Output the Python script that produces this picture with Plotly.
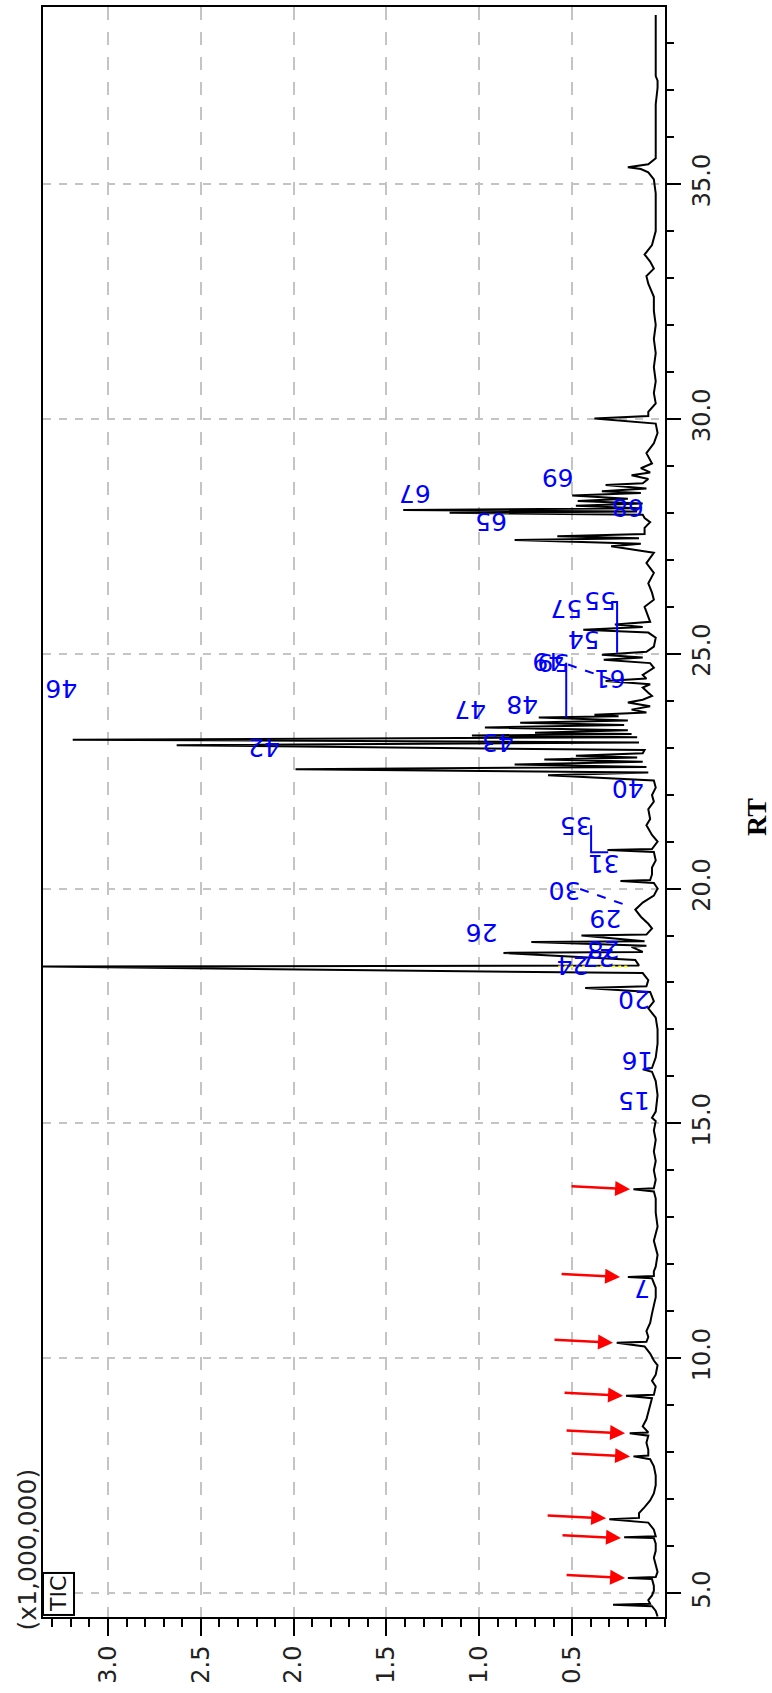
import plotly.graph_objects as go

# ---------------- data (RT in min, TIC in x1,000,000) ----------------
rt_min = [
    4.50, 4.62, 4.72, 4.75, 4.77, 4.85, 4.95, 5.05, 5.15, 5.30, 5.32, 5.34, 5.45, 5.60, 5.75, 5.90,
    6.05, 6.17, 6.19, 6.21, 6.35, 6.50, 6.57, 6.60, 6.70, 6.83, 6.97, 7.12, 7.30, 7.50, 7.70, 7.85,
    7.91, 7.93, 8.05, 8.20, 8.35, 8.40, 8.42, 8.55, 8.70, 8.85, 9.00, 9.15, 9.20, 9.22, 9.40, 9.52,
    9.65, 9.85, 9.95, 10.10, 10.25, 10.33, 10.35, 10.45, 10.58, 10.75, 10.95, 11.10, 11.30, 11.50,
    11.62, 11.70, 11.73, 11.75, 11.85, 11.95, 12.20, 12.50, 12.65, 12.80, 13.10, 13.40, 13.55, 13.60,
    13.62, 13.80, 14.00, 14.20, 14.40, 14.65, 14.85, 15.05, 15.12, 15.25, 15.60, 15.90, 16.10, 16.15,
    16.18, 16.40, 16.70, 17.00, 17.25, 17.45, 17.60, 17.80, 17.88, 17.92, 18.05, 18.20, 18.34, 18.36,
    18.48, 18.63, 18.65, 18.76, 18.78, 18.86, 18.88, 19.00, 19.02, 19.15, 19.25, 19.40, 19.55, 19.70,
    19.85, 20.00, 20.12, 20.16, 20.18, 20.30, 20.45, 20.60, 20.78, 20.82, 20.84, 21.00, 21.14, 21.35,
    21.48, 21.69, 21.85, 21.99, 22.15, 22.30, 22.41, 22.47, 22.54, 22.59, 22.64, 22.70, 22.75, 22.79,
    22.83, 22.88, 22.95, 23.05, 23.11, 23.17, 23.22, 23.26, 23.29, 23.32, 23.37, 23.43, 23.48, 23.53,
    23.58, 23.64, 23.67, 23.70, 23.75, 23.81, 23.88, 23.96, 24.02, 24.10, 24.17, 24.28, 24.35, 24.42,
    24.47, 24.55, 24.70, 24.80, 24.87, 24.92, 24.98, 25.04, 25.15, 25.34, 25.45, 25.51, 25.57, 25.62,
    25.68, 25.80, 26.00, 26.15, 26.30, 26.50, 26.72, 26.93, 27.15, 27.29, 27.34, 27.42, 27.46, 27.50,
    27.55, 27.68, 27.80, 27.89, 27.96, 28.00, 28.03, 28.06, 28.10, 28.15, 28.20, 28.25, 28.30, 28.37,
    28.42, 28.46, 28.52, 28.59, 28.63, 28.72, 28.80, 28.86, 28.95, 29.05, 29.27, 29.48, 29.70, 29.90,
    30.01, 30.06, 30.15, 30.33, 30.55, 30.80, 31.10, 31.40, 31.70, 32.00, 32.30, 32.60, 32.88, 33.04,
    33.20, 33.35, 33.50, 33.70, 34.00, 34.40, 34.80, 35.10, 35.25, 35.32, 35.36, 35.42, 35.55, 35.90,
    36.30, 36.70, 37.05, 37.20, 37.30, 37.70, 38.10, 38.60,
]
tic_1e6 = [
    0.04, 0.05, 0.07, 0.28, 0.08, 0.09, 0.07, 0.06, 0.06, 0.07, 0.20, 0.05, 0.04, 0.05, 0.06, 0.05,
    0.05, 0.06, 0.22, 0.05, 0.06, 0.09, 0.30, 0.14, 0.14, 0.11, 0.08, 0.06, 0.05, 0.05, 0.06, 0.08,
    0.17, 0.09, 0.09, 0.10, 0.09, 0.19, 0.09, 0.12, 0.10, 0.09, 0.08, 0.07, 0.21, 0.06, 0.05, 0.07,
    0.05, 0.04, 0.06, 0.08, 0.11, 0.26, 0.10, 0.09, 0.10, 0.08, 0.07, 0.06, 0.05, 0.05,
    0.06, 0.07, 0.20, 0.06, 0.06, 0.05, 0.04, 0.06, 0.05, 0.04, 0.05, 0.05, 0.06, 0.17,
    0.06, 0.05, 0.06, 0.05, 0.06, 0.05, 0.06, 0.05, 0.07, 0.05, 0.04, 0.05, 0.07, 0.12,
    0.07, 0.05, 0.04, 0.04, 0.05, 0.09, 0.06, 0.08, 0.43, 0.10, 0.09, 0.12, 3.40, 0.14,
    0.16, 0.87, 0.12, 0.18, 0.10, 0.72, 0.11, 0.45, 0.10, 0.07, 0.09, 0.13, 0.16, 0.12,
    0.06, 0.04, 0.06, 0.24, 0.08, 0.07, 0.07, 0.05, 0.06, 0.31, 0.07, 0.04, 0.07, 0.10,
    0.08, 0.09, 0.06, 0.07, 0.05, 0.06, 0.63, 0.09, 1.99, 0.10, 0.81, 0.12, 0.65, 0.15,
    0.48, 0.12, 0.11, 2.63, 0.14, 3.19, 0.15, 1.04, 0.18, 0.70, 0.20, 0.97, 0.22, 0.78,
    0.20, 0.68, 0.25, 0.38, 0.10, 0.18, 0.08, 0.20, 0.12, 0.07, 0.09, 0.12, 0.08, 0.32,
    0.10, 0.12, 0.06, 0.08, 0.33, 0.12, 0.34, 0.10, 0.06, 0.05, 0.09, 0.44, 0.12, 0.27,
    0.08, 0.09, 0.11, 0.06, 0.07, 0.09, 0.06, 0.10, 0.06, 0.29, 0.13, 0.81, 0.14, 0.58,
    0.11, 0.11, 0.08, 0.11, 0.12, 1.16, 0.15, 1.41, 0.14, 0.48, 0.12, 0.47, 0.20, 0.50,
    0.13, 0.34, 0.10, 0.32, 0.12, 0.09, 0.18, 0.08, 0.13, 0.07, 0.10, 0.06, 0.04, 0.05,
    0.38, 0.09, 0.09, 0.05, 0.06, 0.05, 0.06, 0.05, 0.06, 0.05, 0.06, 0.06, 0.09, 0.10,
    0.06, 0.08, 0.11, 0.07, 0.05, 0.05, 0.05, 0.06, 0.09, 0.13, 0.20, 0.09, 0.05, 0.05,
    0.05, 0.05, 0.04, 0.04, 0.05, 0.05, 0.05, 0.05,
]

# peak labels (blue, written upside-down)
label_text = ["7", "15", "16", "20", "24", "27", "28", "26", "29", "30", "31", "35", "40",
              "42", "43", "46", "47", "48", "49", "59", "61", "54", "57", "55", "65", "67",
              "68", "69"]
label_rt = [11.50, 15.49, 16.34, 17.65, 18.36, 18.52, 18.70, 19.06, 19.35, 19.97, 20.52, 21.33,
            22.13, 23.00, 23.11, 24.26, 23.81, 23.92, 24.85, 24.81, 24.47, 25.30, 25.96, 26.13,
            27.80, 28.40, 28.10, 28.74]
label_tic = [0.124, 0.167, 0.150, 0.167, 0.50, 0.36, 0.33, 0.99, 0.32, 0.54, 0.33, 0.48,
             0.20, 2.16, 0.90, 3.25, 1.05, 0.77, 0.63, 0.60, 0.30, 0.44, 0.53, 0.35,
             0.94, 1.35, 0.20, 0.58]

# leader lines of the labels
lead_35_tic = [0.398, 0.398, 0.306]
lead_35_rt = [21.35, 20.775, 20.775]
lead_30_tic = [0.457, 0.183]
lead_30_rt = [19.99, 19.61]
lead_59_tic = [0.532, 0.532]
lead_59_rt = [24.81, 23.64]
lead_61_tic = [0.522, 0.29]
lead_61_rt = [24.77, 24.45]
lead_55_tic = [0.29, 0.258, 0.258]
lead_55_rt = [26.10, 26.10, 25.02]

cursor_tic = [0.575, 0.20]
cursor_rt = [18.34, 18.34]

# red arrows (tip positions)
arrow_rt = [5.32, 6.17, 6.59, 7.91, 8.40, 9.20, 10.33, 11.73, 13.60]
arrow_tic = [0.215, 0.237, 0.317, 0.188, 0.215, 0.226, 0.280, 0.242, 0.188]

x_ticks = [0.5, 1.0, 1.5, 2.0, 2.5, 3.0]
x_ticktext = ["0.5", "1.0", "1.5", "2.0", "2.5", "3.0"]

# ---------------- figure ----------------
BLUE = "#0000ff"
FONT = "DejaVu Sans"

fig = go.Figure()
fig.add_trace(go.Scatter(x=tic_1e6, y=rt_min, mode="lines",
                         line=dict(color="black", width=2), hoverinfo="skip", showlegend=False))

for xs, ys, dash in [(lead_35_tic, lead_35_rt, "solid"), (lead_30_tic, lead_30_rt, "dash"),
                     (lead_59_tic, lead_59_rt, "solid"), (lead_61_tic, lead_61_rt, "dash"),
                     (lead_55_tic, lead_55_rt, "solid")]:
    fig.add_trace(go.Scatter(x=xs, y=ys, mode="lines", line=dict(color=BLUE, width=2, dash=dash),
                             hoverinfo="skip", showlegend=False))

fig.add_trace(go.Scatter(x=cursor_tic, y=cursor_rt, mode="lines",
                         line=dict(color="#ffff00", width=2, dash="dot"),
                         hoverinfo="skip", showlegend=False))

annotations = []
for t, r, v in zip(label_text, label_rt, label_tic):
    annotations.append(dict(x=v, y=r, xref="x", yref="y", text=t, showarrow=False,
                            textangle=180, font=dict(family=FONT, size=25, color=BLUE)))

for r, v in zip(arrow_rt, arrow_tic):
    annotations.append(dict(x=v, y=r, xref="x", yref="y", text="", showarrow=True,
                            ax=-60, ay=-3, arrowhead=2, arrowsize=1.2, arrowwidth=2.5,
                            arrowcolor="#ff0000", standoff=0))

annotations.append(dict(x=0.0257, y=0.0143, xref="paper", yref="paper", text="TIC",
                        showarrow=False, textangle=-90, xanchor="center", yanchor="middle",
                        bordercolor="black", borderwidth=2, borderpad=2, bgcolor="white",
                        font=dict(family=FONT, size=22, color="#111")))
annotations.append(dict(x=-0.0257, y=0.042, xref="paper", yref="paper", text="(x1,000,000)",
                        showarrow=False, textangle=-90, xanchor="center", yanchor="middle",
                        font=dict(family=FONT, size=25, color="#222")))
annotations.append(dict(x=1.148, y=0.497, xref="paper", yref="paper", text="<b>RT</b>",
                        showarrow=False, textangle=-90, xanchor="center", yanchor="middle",
                        borderpad=0,
                        font=dict(family="Liberation Serif", size=28, color="black")))

fig.update_layout(
    width=772, height=1693,
    margin=dict(l=43, r=107, t=5, b=76),
    paper_bgcolor="white", plot_bgcolor="white",
    showlegend=False,
    annotations=annotations,
    xaxis=dict(
        range=[3.35, 0], tickmode="array", tickvals=x_ticks, ticktext=x_ticktext,
        tickangle=-90, ticks="outside", ticklen=17, tickwidth=2, tickcolor="black",
        tickfont=dict(family=FONT, size=24, color="#222"),
        showgrid=True, gridcolor="#c4c4c4", gridwidth=2, griddash="13px,12px",
        showline=True, linecolor="black", linewidth=2, mirror=True, zeroline=False,
        minor=dict(tickmode="linear", tick0=0, dtick=0.1, ticks="outside", ticklen=8,
                   tickwidth=2, tickcolor="black", showgrid=False),
    ),
    yaxis=dict(
        range=[4.49, 38.77], side="right", tickmode="linear", tick0=0, dtick=5,
        tickformat=".1f", tickangle=-90, ticks="outside", ticklen=14, tickwidth=2,
        tickcolor="black", tickfont=dict(family=FONT, size=24, color="#222"),
        showgrid=True, gridcolor="#c4c4c4", gridwidth=2, griddash="8px,8px",
        showline=True, linecolor="black", linewidth=2, mirror=True, zeroline=False,
        minor=dict(tickmode="linear", tick0=0, dtick=1, ticks="outside", ticklen=7,
                   tickwidth=2, tickcolor="black", showgrid=False),
    ),
)

fig.write_html("out.html")
